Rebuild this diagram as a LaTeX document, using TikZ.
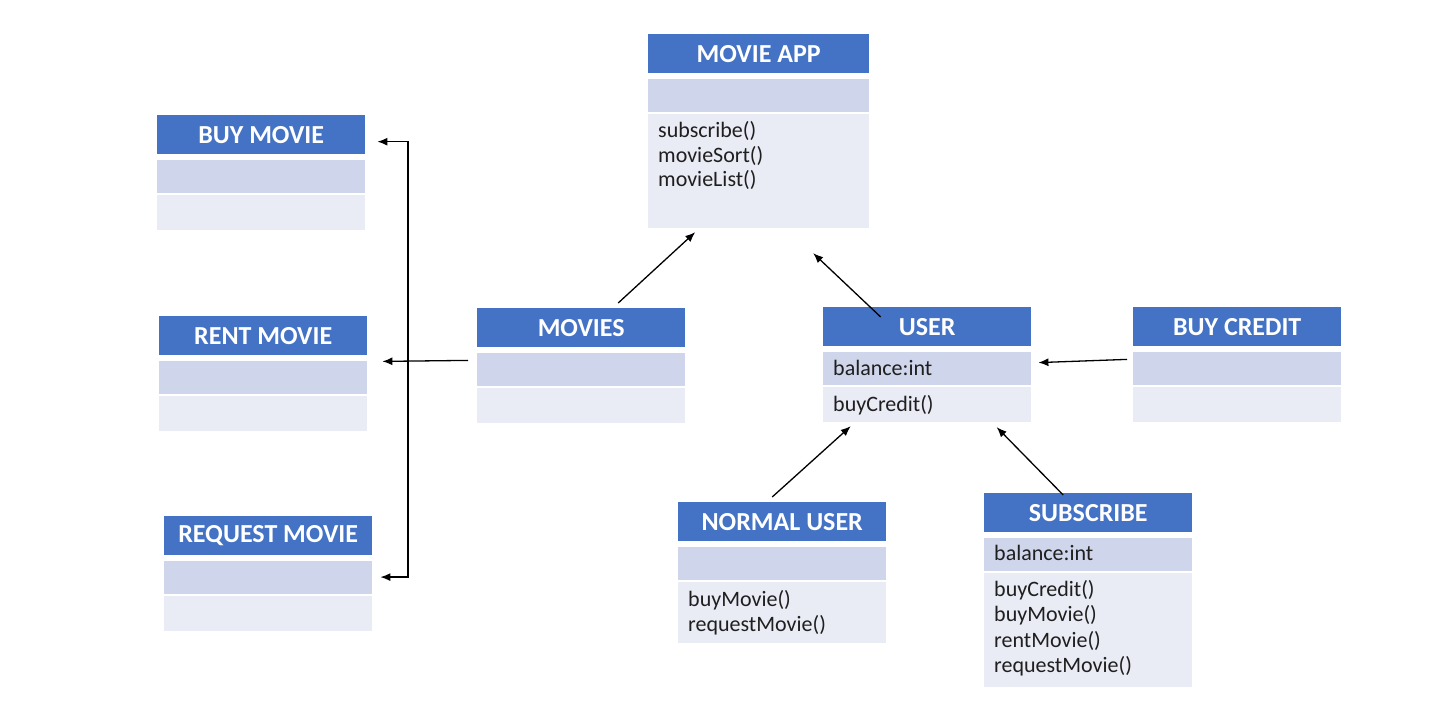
\documentclass[tikz,border=0pt]{standalone}
\usepackage{fontspec}
\setmainfont{Carlito}
\usetikzlibrary{arrows.meta}
\definecolor{headblue}{HTML}{4472C4}
\definecolor{attrfill}{HTML}{CFD5EA}
\definecolor{opsfill}{HTML}{E9EBF5}
\tikzset{
  classhead/.style={fill=headblue, text=white, font=\bfseries\fontsize{26}{30}\selectfont,
    minimum width=208pt, minimum height=39pt, inner sep=0pt, anchor=north west},
  classattr/.style={fill=attrfill, minimum width=208pt, minimum height=33pt, inner sep=0pt, anchor=north west},
  classops/.style={fill=opsfill, minimum width=208pt, minimum height=35pt, inner sep=0pt, anchor=north west},
  member/.style={font=\fontsize{22}{24.5}\selectfont, text=black!88, align=left, inner sep=0pt,
    anchor=north west, execute at begin node=\strut},
  link/.style={-{Latex[length=10pt,width=8pt]}, line width=1.3pt},
}
\begin{document}
\begin{tikzpicture}[x=1pt,y=-1pt]
	\useasboundingbox (0,0) rectangle (1452,727);
	% movie app
	\node[classhead, minimum width=221pt] (appt) at (648,34) {MOVIE APP};
	\node[classattr, minimum width=221pt] (appa) at ([yshift=-5pt]appt.south west) {};
	\node[classops, minimum width=221pt, minimum height=114pt] (appo) at ([yshift=-2pt]appa.south west) {};
	\node[member] (appm) at ([xshift=10pt,yshift=-7.85pt]appo.north west) {subscribe()\\movieSort()\\movieList()};
	% buy, rent, request
	\node[classhead] (buyt) at (157,115) {BUY MOVIE};
	\node[classattr] (buya) at ([yshift=-5pt]buyt.south west) {};
	\node[classops] (buyo) at ([yshift=-2pt]buya.south west) {};
	\node[classhead] (rentt) at (159,316) {RENT MOVIE};
	\node[classattr] (renta) at ([yshift=-5pt]rentt.south west) {};
	\node[classops] (rento) at ([yshift=-2pt]renta.south west) {};
	\node[classhead] (reqt) at (164,516) {REQUEST MOVIE};
	\node[classattr] (reqa) at ([yshift=-5pt]reqt.south west) {};
	\node[classops] (reqo) at ([yshift=-2pt]reqa.south west) {};
	% movies
	\node[classhead] (moviest) at (477,308) {MOVIES};
	\node[classattr] (moviesa) at ([yshift=-5pt]moviest.south west) {};
	\node[classops] (movieso) at ([yshift=-2pt]moviesa.south west) {};
	% user
	\node[classhead] (usert) at (823,307) {USER};
	\node[classattr] (usera) at ([yshift=-5pt]usert.south west) {};
	\node[classops] (usero) at ([yshift=-2pt]usera.south west) {};
	\node[member] (userv) at ([xshift=10pt,yshift=-6.85pt]usera.north west) {balance:int};
	\node[member] (userm) at ([xshift=10pt,yshift=-7.85pt]usero.north west) {buyCredit()};
	% buy credit
	\node[classhead] (creditt) at (1133,307) {BUY CREDIT};
	\node[classattr] (credita) at ([yshift=-5pt]creditt.south west) {};
	\node[classops] (credito) at ([yshift=-2pt]credita.south west) {};
	% normal user
	\node[classhead] (normalt) at (678,502) {NORMAL USER};
	\node[classattr] (normala) at ([yshift=-5pt]normalt.south west) {};
	\node[classops, minimum height=61pt] (normalo) at ([yshift=-2pt]normala.south west) {};
	\node[member] (normalm) at ([xshift=10pt,yshift=-8.85pt]normalo.north west) {buyMovie()\\requestMovie()};
	% subscribe
	\node[classhead] (subst) at (984,493) {SUBSCRIBE};
	\node[classattr] (subsa) at ([yshift=-5pt]subst.south west) {};
	\node[classops, minimum height=114pt] (subso) at ([yshift=-2pt]subsa.south west) {};
	\node[member] (subsv) at ([xshift=10pt,yshift=-5.85pt]subsa.north west) {balance:int};
	\node[member, font=\fontsize{22}{25.5}\selectfont] (subsm) at ([xshift=10pt,yshift=-7.15pt]subso.north west) {buyCredit()\\buyMovie()\\rentMovie()\\requestMovie()};
	% links
	\coordinate (spine) at (408,360);
	\draw[{Latex[length=10pt,width=8pt]}-{Latex[length=10pt,width=8pt]}, line width=1.3pt]
		([xshift=12pt,yshift=-7pt]buyt.east) -| (spine) |- ([xshift=8pt]reqa.east);
	\draw[link] ([xshift=-9pt,yshift=-13pt]moviest.south west) -- ([xshift=15pt,yshift=-1pt]renta.north east);
	\draw[link] ([xshift=37pt,yshift=5pt]moviest.north) -- ([xshift=-63.5pt,yshift=-4pt]appo.south);
	\draw[link] ([xshift=-46.5pt,yshift=-10pt]usert.north) -- ([xshift=54.5pt,yshift=-25pt]appo.south);
	\draw[link] ([xshift=-6pt,yshift=-13pt]creditt.south west) -- ([xshift=7pt,yshift=5.5pt]usera.east);
	\draw[link] ([xshift=-10pt,yshift=5pt]normalt.north) -- ([xshift=-76.5pt,yshift=-4pt]usero.south);
	\draw[link] ([xshift=-25pt,yshift=-2pt]subst.north) -- ([xshift=69.5pt,yshift=-5pt]usero.south);
\end{tikzpicture}
\end{document}
